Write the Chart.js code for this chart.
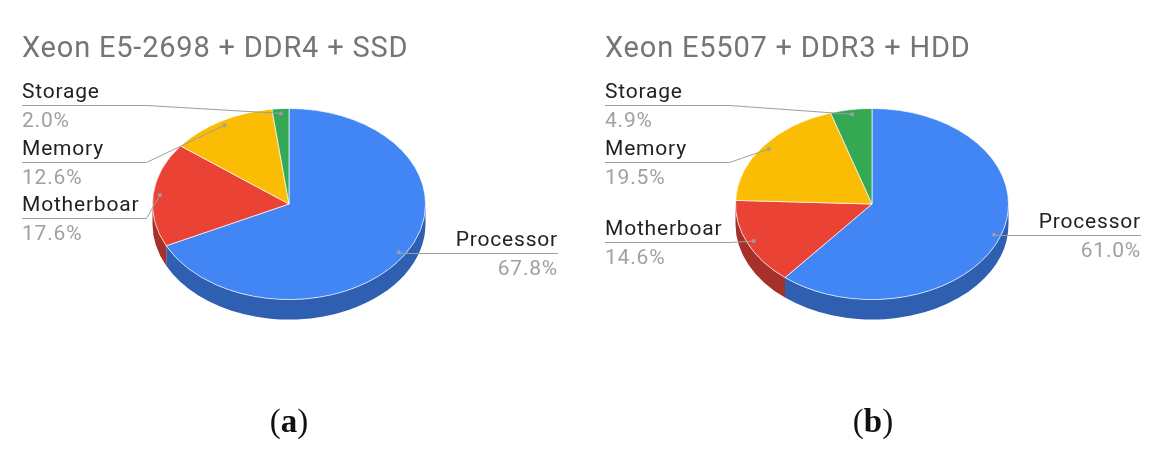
<!DOCTYPE html>
<html>
<head>
<meta charset="utf-8">
<script src="https://cdn.jsdelivr.net/npm/chart.js@4/dist/chart.umd.min.js"></script>
<style>
  html, body { margin: 0; padding: 0; background: #fff; }
  #wrap { position: relative; width: 1166px; height: 464px; overflow: hidden; }
  canvas { position: absolute; top: 0; }
  .cap { position: absolute; top: 403px; width: 120px; text-align: center;
         font-family: "Liberation Serif", "DejaVu Serif", serif; font-size: 33px; color: #111; }
</style>
</head>
<body>
<div id="wrap">
  <canvas id="pieA" width="583" height="464" style="left:0"></canvas>
  <canvas id="pieB" width="583" height="464" style="left:583px"></canvas>
  <div class="cap" style="left:229px">(<b>a</b>)</div>
  <div class="cap" style="left:813px">(<b>b</b>)</div>
</div>
<script>
// data
const categories = ["Processor", "Motherboar", "Memory", "Storage"];
const shareE52698 = [67.8, 17.6, 12.6, 2.0];
const shareE5507 = [61.0, 14.6, 19.5, 4.9];
const titleA = "Xeon E5-2698 + DDR4 + SSD";
const titleB = "Xeon E5507 + DDR3 + HDD";

// look
const sliceColors = ["#4285F4", "#EA4335", "#FBBC04", "#34A853"];
const sideColors = ["#2F5FB0", "#A6302A", "#B58A03", "#257A3D"];
const TILT = 0.70;   // vertical squash of the pie top
const DEPTH = 20;    // extrusion height
// y of each leader line, same order as categories
const lineYA = [253, 218, 162, 105];
const lineYB = [235, 242, 162, 105];

const tilt3d = {
  id: "tilt3d",
  beforeDatasetsDraw(chart) {
    const ctx = chart.ctx;
    const arcs = chart.getDatasetMeta(0).data;
    arcs.forEach((arc, i) => {
      const p = arc.getProps(["x", "y", "startAngle", "endAngle", "outerRadius"], true);
      const a0 = Math.max(p.startAngle, 0);
      const a1 = Math.min(p.endAngle, Math.PI);
      if (a1 <= a0) return;
      const ry = p.outerRadius * TILT;
      ctx.beginPath();
      ctx.ellipse(p.x, p.y, p.outerRadius, ry, 0, a0, a1);
      ctx.ellipse(p.x, p.y + DEPTH, p.outerRadius, ry, 0, a1, a0, true);
      ctx.closePath();
      ctx.fillStyle = sideColors[i];
      ctx.fill();
    });
    const cy = arcs[0].y;
    ctx.save();
    ctx.translate(0, cy * (1 - TILT));
    ctx.scale(1, TILT);
  },
  afterDatasetsDraw(chart) {
    chart.ctx.restore();
  }
};

const pieLabels = {
  id: "pieLabels",
  afterDraw(chart, args, opts) {
    const ctx = chart.ctx;
    const arcs = chart.getDatasetMeta(0).data;
    const values = chart.data.datasets[0].data;

    ctx.save();
    ctx.fillStyle = "#757575";
    ctx.font = "29px Roboto";
    ctx.letterSpacing = "0.8px";
    ctx.textAlign = "left";
    ctx.textBaseline = "alphabetic";
    ctx.fillText(opts.title, 22, 57);

    arcs.forEach((arc, i) => {
      const p = arc.getProps(["x", "y", "startAngle", "endAngle", "outerRadius"], true);
      const mid = (p.startAngle + p.endAngle) / 2;
      const r = p.outerRadius * 0.95;
      const dx = p.x + r * Math.cos(mid);
      const dy = p.y + r * TILT * Math.sin(mid);
      const ly = opts.lineY[i];
      const right = Math.cos(mid) > 0.3;

      ctx.strokeStyle = "#9e9e9e";
      ctx.lineWidth = 1;
      ctx.beginPath();
      if (right) {
        ctx.moveTo(dx, dy);
        ctx.lineTo(dx + 4, ly + 0.5);
        ctx.lineTo(558, ly + 0.5);
      } else {
        const elbow = p.x - p.outerRadius - 6;
        ctx.moveTo(22, ly + 0.5);
        ctx.lineTo(Math.min(elbow, dx), ly + 0.5);
        ctx.lineTo(dx, dy);
      }
      ctx.stroke();

      ctx.fillStyle = "#9e9e9e";
      ctx.beginPath();
      ctx.arc(dx, dy, 2, 0, Math.PI * 2);
      ctx.fill();

      ctx.font = "21px Roboto";
      ctx.letterSpacing = "0.8px";
      ctx.textAlign = right ? "right" : "left";
      const tx = right ? 558 : 22;
      ctx.fillStyle = "#222222";
      ctx.fillText(chart.data.labels[i], tx, ly - 7);
      ctx.fillStyle = "#a0a0a0";
      ctx.fillText(values[i].toFixed(1) + "%", tx, ly + 22);
    });
    ctx.restore();
  }
};

function makePie(id, values, title, lineY) {
  return new Chart(document.getElementById(id), {
    type: "pie",
    data: {
      labels: categories,
      datasets: [{
        data: values,
        backgroundColor: sliceColors,
        borderColor: "#ffffff",
        borderWidth: 0.8,
        radius: 136.5
      }]
    },
    options: {
      responsive: false,
      animation: false,
      events: [],
      layout: { padding: { left: 139, right: 144, top: 54, bottom: 110 } },
      plugins: {
        legend: { display: false },
        tooltip: { enabled: false },
        pieLabels: { title: title, lineY: lineY }
      }
    },
    plugins: [tilt3d, pieLabels]
  });
}

makePie("pieA", shareE52698, titleA, lineYA);
makePie("pieB", shareE5507, titleB, lineYB);
</script>
</body>
</html>
